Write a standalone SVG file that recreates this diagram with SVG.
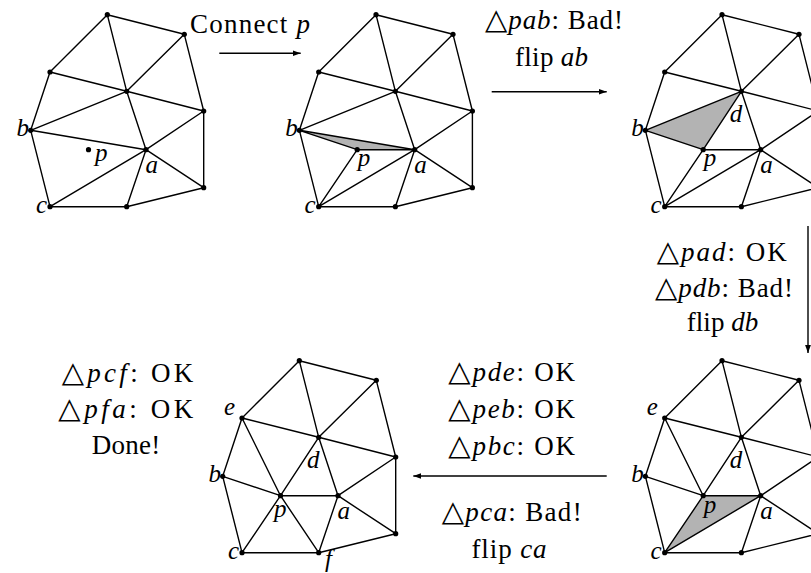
<svg xmlns="http://www.w3.org/2000/svg" width="811" height="573" viewBox="0 0 811 573">
<style>
.e{stroke:#000;stroke-width:1.4;fill:none;stroke-linecap:round}
.sh{fill:#b3b3b3;stroke:none}
.v{fill:#000}
.t{font-family:"Liberation Serif","DejaVu Serif",serif;font-size:27px;fill:#000}
.i{font-style:italic}
.tr{font-family:"DejaVu Sans",sans-serif;font-size:29px}
.l{font-family:"Liberation Serif","DejaVu Serif",serif;font-size:25px;font-style:italic;fill:#000}
.ar{stroke:#000;stroke-width:1.4;fill:none}
</style>
<defs>
<marker id="ah" markerUnits="userSpaceOnUse" markerWidth="9" markerHeight="7" refX="8" refY="3.5" orient="auto">
<path d="M0,0.6 L8,3.5 L0,6.4 z" fill="#000"/>
</marker>
<g id="common">
<path class="e" d="M107.3,14.7L184.3,34.3 M107.3,14.7L50,72 M107.3,14.7L126.7,91.3 M184.3,34.3L126.7,91.3 M184.3,34.3L203.7,111 M50,72L126.7,91.3 M50,72L30.7,130.3 M126.7,91.3L203.7,111 M126.7,91.3L146,149.7 M203.7,111L146,149.7 M203.7,111L203.7,187.7 M30.7,130.3L50,206.7 M146,149.7L126.7,206.7 M146,149.7L203.7,187.7 M50,206.7L126.7,206.7 M126.7,206.7L203.7,187.7"/>
</g>
<g id="dots">
<circle class="v" cx="107.3" cy="14.7" r="2.6"/>
<circle class="v" cx="184.3" cy="34.3" r="2.6"/>
<circle class="v" cx="50" cy="72" r="2.6"/>
<circle class="v" cx="126.7" cy="91.3" r="2.6"/>
<circle class="v" cx="203.7" cy="111" r="2.6"/>
<circle class="v" cx="30.7" cy="130.3" r="2.6"/>
<circle class="v" cx="88.5" cy="149.7" r="2.6"/>
<circle class="v" cx="146" cy="149.7" r="2.6"/>
<circle class="v" cx="50" cy="206.7" r="2.6"/>
<circle class="v" cx="126.7" cy="206.7" r="2.6"/>
<circle class="v" cx="203.7" cy="187.7" r="2.6"/>
</g>
</defs>

<g id="graph1">
<use href="#common"/>
<path class="e" d="M126.7,91.3L30.7,130.3 M30.7,130.3L146,149.7 M146,149.7L50,206.7"/>
<use href="#dots"/>
<text class="l" x="29" y="136" text-anchor="end">b</text>
<text class="l" x="95" y="161">p</text>
<text class="l" x="145.5" y="173">a</text>
<text class="l" x="47" y="213" text-anchor="end">c</text>
</g>

<g id="graph2" transform="translate(268.7,0)">
<polygon class="sh" points="88.5,149.7 146,149.7 30.7,130.3"/>
<use href="#common"/>
<path class="e" d="M126.7,91.3L30.7,130.3 M30.7,130.3L146,149.7 M146,149.7L50,206.7 M88.5,149.7L30.7,130.3 M88.5,149.7L146,149.7 M88.5,149.7L50,206.7"/>
<use href="#dots"/>
<text class="l" x="29" y="136" text-anchor="end">b</text>
<text class="l" x="89" y="166">p</text>
<text class="l" x="145.5" y="173">a</text>
<text class="l" x="47" y="213" text-anchor="end">c</text>
</g>

<g id="graph3" transform="translate(614.7,0)">
<polygon class="sh" points="30.7,130.3 126.7,91.3 88.5,149.7"/>
<use href="#common"/>
<path class="e" d="M126.7,91.3L30.7,130.3 M146,149.7L50,206.7 M88.5,149.7L30.7,130.3 M88.5,149.7L146,149.7 M88.5,149.7L50,206.7 M88.5,149.7L126.7,91.3"/>
<use href="#dots"/>
<text class="l" x="29" y="136" text-anchor="end">b</text>
<text class="l" x="89" y="166">p</text>
<text class="l" x="145.5" y="173">a</text>
<text class="l" x="47" y="213" text-anchor="end">c</text>
<text class="l" x="115" y="122">d</text>
</g>

<g id="graph4" transform="translate(614.7,346)">
<polygon class="sh" points="88.5,149.7 50,206.7 146,149.7"/>
<use href="#common"/>
<path class="e" d="M146,149.7L50,206.7 M88.5,149.7L30.7,130.3 M88.5,149.7L146,149.7 M88.5,149.7L50,206.7 M88.5,149.7L126.7,91.3 M88.5,149.7L50,72"/>
<use href="#dots"/>
<text class="l" x="29" y="136" text-anchor="end">b</text>
<text class="l" x="89" y="167">p</text>
<text class="l" x="145.5" y="173">a</text>
<text class="l" x="47" y="213" text-anchor="end">c</text>
<text class="l" x="115" y="122">d</text>
<text class="l" x="32" y="69">e</text>
</g>

<g id="graph5" transform="translate(192,346)">
<use href="#common"/>
<path class="e" d="M88.5,149.7L30.7,130.3 M88.5,149.7L146,149.7 M88.5,149.7L50,206.7 M88.5,149.7L126.7,91.3 M88.5,149.7L50,72 M88.5,149.7L126.7,206.7"/>
<use href="#dots"/>
<text class="l" x="29" y="136" text-anchor="end">b</text>
<text class="l" x="82" y="171">p</text>
<text class="l" x="145.5" y="173">a</text>
<text class="l" x="47" y="213" text-anchor="end">c</text>
<text class="l" x="115" y="122">d</text>
<text class="l" x="32" y="69">e</text>
<text class="l" x="133" y="221">f</text>
</g>

<g id="connectors">
<line class="ar" x1="219.3" y1="53.3" x2="300.7" y2="53.3" marker-end="url(#ah)"/>
<line class="ar" x1="491.7" y1="91.7" x2="606.7" y2="91.7" marker-end="url(#ah)"/>
<line class="ar" x1="808" y1="226" x2="808" y2="353" marker-end="url(#ah)"/>
<line class="ar" x1="606.7" y1="476" x2="413.3" y2="476" marker-end="url(#ah)"/>
</g>

<g id="labels">
<text class="t" x="250" y="33" text-anchor="middle" textLength="120" lengthAdjust="spacing">Connect <tspan class="i">p</tspan></text>
<text class="t" x="554" y="29" text-anchor="middle" textLength="138" lengthAdjust="spacing"><tspan class="tr">△</tspan><tspan class="i">pab</tspan>: Bad!</text>
<text class="t" x="551.5" y="66" text-anchor="middle" textLength="73" lengthAdjust="spacing">flip <tspan class="i">ab</tspan></text>
<text class="t" x="721.7" y="261" text-anchor="middle" textLength="130" lengthAdjust="spacing"><tspan class="tr">△</tspan><tspan class="i">pad</tspan>: OK</text>
<text class="t" x="724" y="296.7" text-anchor="middle" textLength="138" lengthAdjust="spacing"><tspan class="tr">△</tspan><tspan class="i">pdb</tspan>: Bad!</text>
<text class="t" x="722.5" y="331" text-anchor="middle" textLength="71.6" lengthAdjust="spacing">flip <tspan class="i">db</tspan></text>
<text class="t" x="511.7" y="381" text-anchor="middle" textLength="126.7" lengthAdjust="spacing"><tspan class="tr">△</tspan><tspan class="i">pde</tspan>: OK</text>
<text class="t" x="511.7" y="418" text-anchor="middle" textLength="126.7" lengthAdjust="spacing"><tspan class="tr">△</tspan><tspan class="i">peb</tspan>: OK</text>
<text class="t" x="511.7" y="455" text-anchor="middle" textLength="126.7" lengthAdjust="spacing"><tspan class="tr">△</tspan><tspan class="i">pbc</tspan>: OK</text>
<text class="t" x="511.7" y="521" text-anchor="middle" textLength="140" lengthAdjust="spacing"><tspan class="tr">△</tspan><tspan class="i">pca</tspan>: Bad!</text>
<text class="t" x="509" y="558" text-anchor="middle" textLength="75" lengthAdjust="spacing">flip <tspan class="i">ca</tspan></text>
<text class="t" x="127.5" y="382" text-anchor="middle" textLength="131.7" lengthAdjust="spacing"><tspan class="tr">△</tspan><tspan class="i">pcf</tspan>: OK</text>
<text class="t" x="125.8" y="418" text-anchor="middle" textLength="135" lengthAdjust="spacing"><tspan class="tr">△</tspan><tspan class="i">pfa</tspan>: OK</text>
<text class="t" x="126" y="454" text-anchor="middle" textLength="68.3" lengthAdjust="spacing">Done!</text>
</g>
</svg>
